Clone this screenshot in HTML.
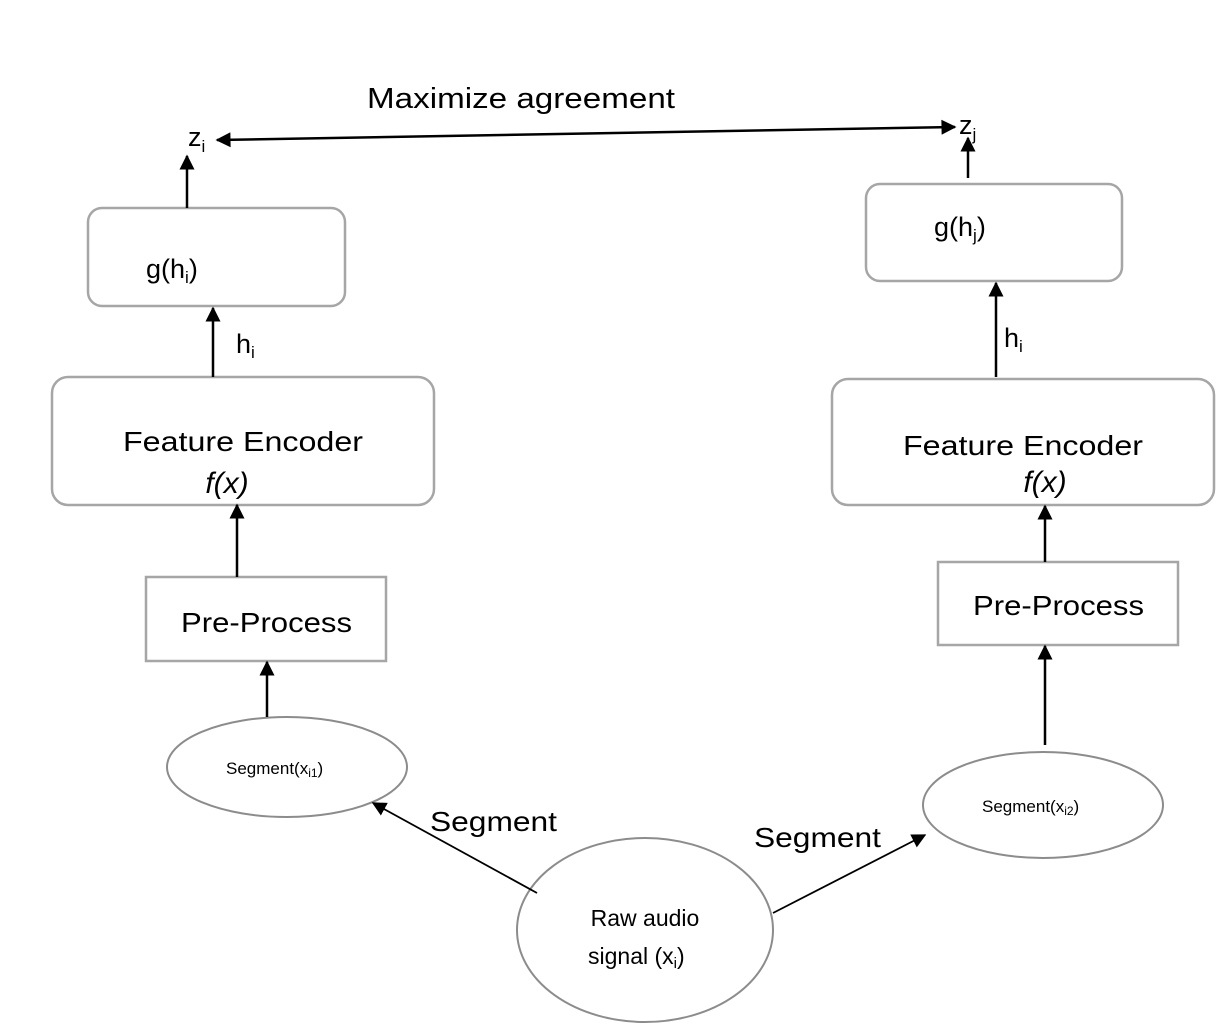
<!DOCTYPE html>
<html><head><meta charset="utf-8"><style>
html,body{margin:0;padding:0;background:#fff;}
svg{display:block;}
text{font-family:"Liberation Sans",sans-serif;fill:#000;}
</style></head><body>
<svg width="1232" height="1034" viewBox="0 0 1232 1034">
<defs>
<marker id="a" viewBox="0 0 10 10" refX="9" refY="5" markerWidth="6.5" markerHeight="6" orient="auto-start-reverse" markerUnits="strokeWidth">
<path d="M0,0 L10,5 L0,10 z" fill="#000"/></marker>
<marker id="b" viewBox="0 0 10 10" refX="9" refY="5" markerWidth="8" markerHeight="8" orient="auto-start-reverse" markerUnits="strokeWidth">
<path d="M0,0 L10,5 L0,10 z" fill="#000"/></marker>
</defs>
<g fill="#fff" stroke="#a6a6a6" stroke-width="2.5">
<rect x="88" y="208" width="257" height="98" rx="14"/>
<rect x="52" y="377" width="382" height="128" rx="16"/>
<rect x="146" y="577" width="240" height="84"/>
<rect x="866" y="184" width="256" height="97" rx="14"/>
<rect x="832" y="379" width="382" height="126" rx="16"/>
<rect x="938" y="562" width="240" height="83"/>
</g>
<g fill="#fff" stroke="#8c8c8c" stroke-width="2">
<ellipse cx="287" cy="767" rx="120" ry="50"/>
<ellipse cx="1043" cy="805" rx="120" ry="53"/>
<ellipse cx="645" cy="930" rx="128" ry="92"/>
</g>
<g stroke="#000" stroke-width="2.5" fill="none">
<line x1="217" y1="140" x2="955" y2="127" marker-start="url(#a)" marker-end="url(#a)"/>
<line x1="187" y1="208" x2="187" y2="156" marker-end="url(#a)"/>
<line x1="213" y1="377" x2="213" y2="308" marker-end="url(#a)"/>
<line x1="237" y1="577" x2="237" y2="505" marker-end="url(#a)"/>
<line x1="267" y1="717" x2="267" y2="662" marker-end="url(#a)"/>
<line x1="968" y1="178" x2="968" y2="138" marker-end="url(#a)"/>
<line x1="996" y1="377" x2="996" y2="283" marker-end="url(#a)"/>
<line x1="1045" y1="562" x2="1045" y2="506" marker-end="url(#a)"/>
<line x1="1045" y1="745" x2="1045" y2="646" marker-end="url(#a)"/>
</g>
<g stroke="#000" stroke-width="1.8" fill="none">
<line x1="537" y1="893" x2="373" y2="803" marker-end="url(#b)"/>
<line x1="773" y1="913" x2="925" y2="835" marker-end="url(#b)"/>
</g>
<text x="367" y="108" font-size="29" textLength="308" lengthAdjust="spacingAndGlyphs">Maximize agreement</text>
<text x="188" y="146" font-size="27">z<tspan font-size="17" dy="6">i</tspan></text>
<text x="959" y="134" font-size="27">z<tspan font-size="17" dy="6">j</tspan></text>
<text x="146" y="278" font-size="27">g(h<tspan font-size="17" dy="5">i</tspan><tspan dy="-5">)</tspan></text>
<text x="934" y="236" font-size="27">g(h<tspan font-size="17" dy="5">j</tspan><tspan dy="-5">)</tspan></text>
<text x="236" y="353" font-size="27">h<tspan font-size="17" dy="5">i</tspan></text>
<text x="1004" y="347" font-size="27">h<tspan font-size="17" dy="5">i</tspan></text>
<text x="123" y="451" font-size="28" textLength="240" lengthAdjust="spacingAndGlyphs">Feature Encoder</text>
<text x="227" y="493" font-size="30" text-anchor="middle" font-family="Liberation Serif" font-style="italic">f(x)</text>
<text x="903" y="455" font-size="28" textLength="240" lengthAdjust="spacingAndGlyphs">Feature Encoder</text>
<text x="1045" y="492" font-size="30" text-anchor="middle" font-family="Liberation Serif" font-style="italic">f(x)</text>
<text x="181" y="632" font-size="28" textLength="171" lengthAdjust="spacingAndGlyphs">Pre-Process</text>
<text x="973" y="615" font-size="28" textLength="171" lengthAdjust="spacingAndGlyphs">Pre-Process</text>
<text x="226" y="774" font-size="17">Segment(x<tspan font-size="12" dy="3">i1</tspan><tspan dy="-3">)</tspan></text>
<text x="982" y="812" font-size="17">Segment(x<tspan font-size="12" dy="3">i2</tspan><tspan dy="-3">)</tspan></text>
<text x="430" y="831" font-size="28" textLength="127" lengthAdjust="spacingAndGlyphs">Segment</text>
<text x="754" y="847" font-size="28" textLength="127" lengthAdjust="spacingAndGlyphs">Segment</text>
<text x="645" y="926" font-size="23" text-anchor="middle">Raw audio</text>
<text x="588" y="964" font-size="23">signal (x<tspan font-size="15" dy="4">i</tspan><tspan dy="-4">)</tspan></text>
</svg>
</body></html>
